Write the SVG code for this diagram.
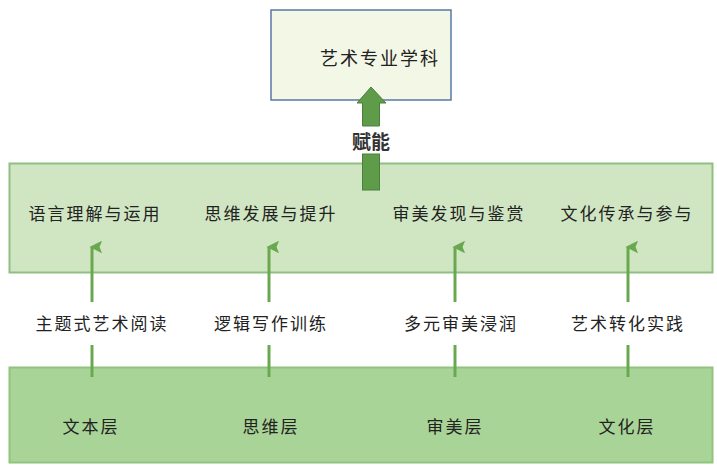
<svg xmlns="http://www.w3.org/2000/svg" width="717" height="465" viewBox="0 0 717 465">
<defs>
<style>
.t{font-family:"Noto Sans CJK SC","Noto Sans CJK TC",sans-serif;font-size:17px;fill:#222;text-anchor:middle;dominant-baseline:central;letter-spacing:2px}
.ln{stroke:#6aa84f;stroke-width:3;fill:none}
</style>
<marker id="ah" viewBox="0 0 10 10" refX="5" refY="2" markerWidth="4.2" markerHeight="4.2" orient="auto-start-reverse" markerUnits="strokeWidth">
<path d="M0,10 L5,0 L10,10 L5,8 Z" fill="#6aa84f"/>
</marker>
</defs>
<rect width="717" height="465" fill="#fff"/>
<g id="top">
<rect x="271" y="10" width="180" height="90" fill="#f3f7e6" stroke="#5a78a6" stroke-width="1.5"/>
<text class="t" x="380" y="57" style="font-size:18px">艺术专业学科</text>
</g>
<g id="mid">
<rect x="9.5" y="163.5" width="703" height="109" fill="#d0e6c3" stroke="#90c080" stroke-width="2"/>
<text class="t" x="95" y="212">语言理解与运用</text>
<text class="t" x="271" y="212">思维发展与提升</text>
<text class="t" x="459" y="212">审美发现与鉴赏</text>
<text class="t" x="627" y="212">文化传承与参与</text>
</g>
<g id="bottom">
<rect x="9.5" y="367.5" width="703" height="95" fill="#a9d497" stroke="#90c47e" stroke-width="2"/>
<text class="t" x="91" y="425">文本层</text>
<text class="t" x="271" y="425">思维层</text>
<text class="t" x="455" y="425">审美层</text>
<text class="t" x="627" y="425">文化层</text>
</g>
<g id="connectors">
<path d="M362.5,103 L357,103 L371,87 L386,103 L379.5,103 L379.5,126 L362.5,126 Z" fill="#5e9c4a" stroke="#4c7f3c" stroke-width="1"/>
<rect x="362.5" y="154" width="17" height="36" fill="#5e9c4a" stroke="#4c7f3c" stroke-width="1"/>
<text x="371" y="140" style="font-family:'Noto Sans CJK SC',sans-serif;font-size:19px;font-weight:bold;fill:#333;text-anchor:middle;dominant-baseline:central">赋能</text>
<path class="ln" d="M92,302 L92,247" marker-end="url(#ah)"/>
<path class="ln" d="M92,377 L92,345"/>
<path class="ln" d="M269,302 L269,247" marker-end="url(#ah)"/>
<path class="ln" d="M269,377 L269,345"/>
<path class="ln" d="M455,302 L455,247" marker-end="url(#ah)"/>
<path class="ln" d="M455,377 L455,345"/>
<path class="ln" d="M628,302 L628,247" marker-end="url(#ah)"/>
<path class="ln" d="M628,377 L628,345"/>
</g>
<g id="labels">
<text class="t" x="102" y="322">主题式艺术阅读</text>
<text class="t" x="271" y="322">逻辑写作训练</text>
<text class="t" x="461" y="322">多元审美浸润</text>
<text class="t" x="628" y="322">艺术转化实践</text>
</g>
</svg>
